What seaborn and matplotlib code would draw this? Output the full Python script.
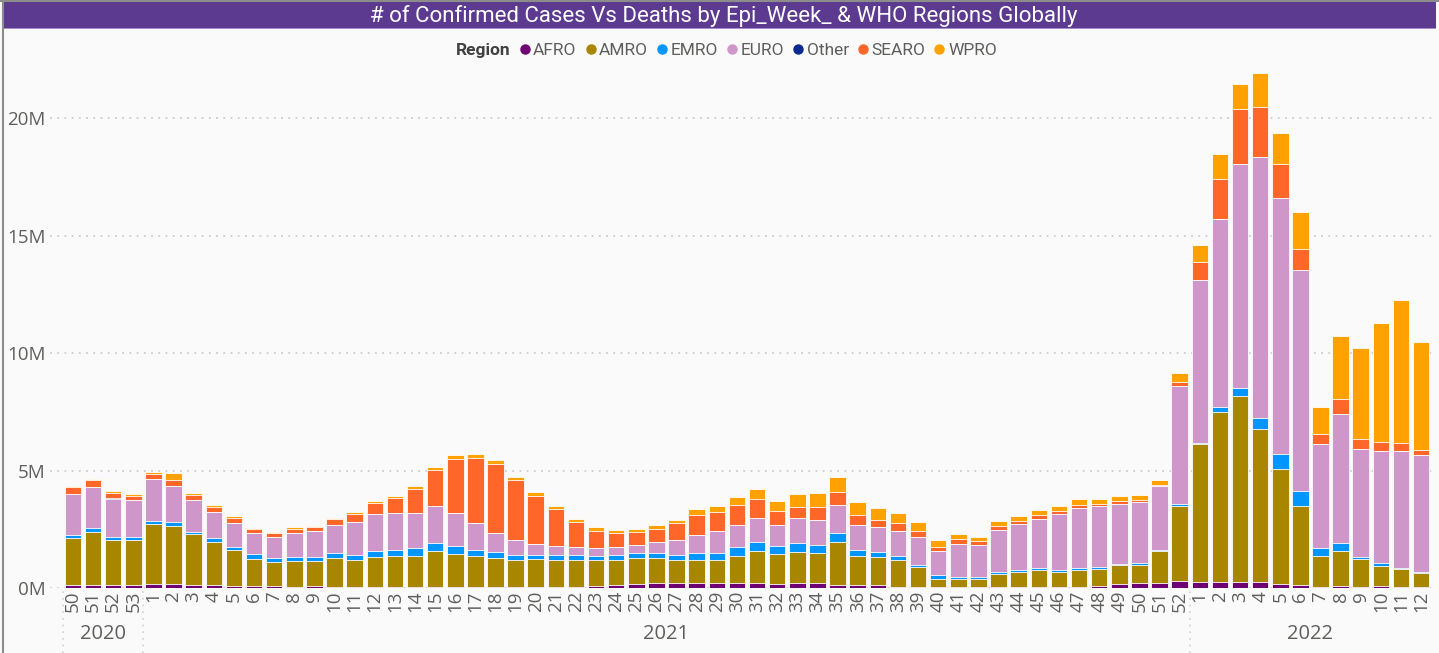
import numpy as np
import pandas as pd
import matplotlib
matplotlib.use("Agg")
import matplotlib.pyplot as plt
import matplotlib.transforms as mtransforms
from matplotlib.lines import Line2D
from matplotlib.patches import Rectangle
import seaborn as sns

# epi weeks: 2020 w50..53, 2021 w1..52, 2022 w1..12
years = [2020] * 4 + [2021] * 52 + [2022] * 12
weeks = [50, 51, 52, 53] + list(range(1, 53)) + list(range(1, 13))

# weekly confirmed cases per region, in millions
afro = [0.12, 0.14, 0.14, 0.13,
        0.20, 0.20, 0.15, 0.15, 0.08, 0.08, 0.08, 0.05, 0.08, 0.05,
        0.05, 0.07, 0.07, 0.07, 0.07, 0.07, 0.05, 0.05, 0.05, 0.05,
        0.07, 0.07, 0.08, 0.12, 0.17, 0.22, 0.22, 0.22, 0.22, 0.22,
        0.22, 0.17, 0.22, 0.22, 0.14, 0.14, 0.14, 0.05, 0.05, 0.05,
        0.05, 0.05, 0.05, 0.05, 0.05, 0.04, 0.06, 0.10, 0.17, 0.22,
        0.22, 0.30,
        0.25, 0.25, 0.25, 0.25, 0.17, 0.15, 0.06, 0.10, 0.06, 0.10,
        0.05, 0.05]
amro = [2.01, 2.26, 1.93, 1.94,
        2.53, 2.46, 2.15, 1.80, 1.56, 1.18, 1.03, 1.11, 1.08, 1.23,
        1.16, 1.25, 1.29, 1.29, 1.52, 1.37, 1.31, 1.23, 1.17, 1.21,
        1.15, 1.15, 1.14, 1.10, 1.11, 1.06, 1.00, 1.00, 1.00, 1.16,
        1.37, 1.27, 1.32, 1.26, 1.81, 1.24, 1.18, 1.17, 0.84, 0.34,
        0.34, 0.34, 0.55, 0.65, 0.71, 0.66, 0.70, 0.72, 0.81, 0.76,
        1.35, 3.18,
        5.89, 7.27, 7.95, 6.53, 4.90, 3.33, 1.31, 1.48, 1.17, 0.86,
        0.75, 0.58]
emro = [0.15, 0.16, 0.11, 0.11,
        0.11, 0.17, 0.10, 0.18, 0.10, 0.18, 0.17, 0.16, 0.16, 0.20,
        0.21, 0.26, 0.28, 0.34, 0.32, 0.36, 0.28, 0.26, 0.20, 0.16,
        0.20, 0.20, 0.16, 0.20, 0.20, 0.20, 0.20, 0.26, 0.26, 0.37,
        0.38, 0.36, 0.37, 0.37, 0.39, 0.26, 0.22, 0.16, 0.11, 0.16,
        0.10, 0.10, 0.10, 0.06, 0.12, 0.06, 0.12, 0.10, 0.05, 0.11,
        0.05, 0.12,
        0.06, 0.21, 0.31, 0.45, 0.64, 0.66, 0.33, 0.33, 0.10, 0.10,
        0.05, 0.06]
euro = [1.72, 1.75, 1.60, 1.56,
        1.80, 1.54, 1.34, 1.13, 1.02, 0.89, 0.90, 1.01, 1.12, 1.22,
        1.40, 1.57, 1.55, 1.49, 1.60, 1.39, 1.12, 0.79, 0.65, 0.48,
        0.38, 0.33, 0.32, 0.33, 0.37, 0.47, 0.65, 0.80, 0.96, 0.95,
        1.00, 0.90, 1.06, 1.07, 1.22, 1.06, 1.06, 1.06, 1.18, 1.02,
        1.39, 1.33, 1.77, 1.97, 2.07, 2.40, 2.55, 2.57, 2.56, 2.56,
        2.72, 5.02,
        6.92, 7.99, 9.55, 11.14, 10.91, 9.41, 4.43, 5.49, 4.60, 4.80,
        5.01, 4.96]
other = [0.0, 0.0, 0.06, 0.0] + [0.0] * 52 + [0.0] * 12
searo = [0.32, 0.29, 0.21, 0.20,
         0.22, 0.23, 0.23, 0.20, 0.23, 0.18, 0.16, 0.21, 0.17, 0.23,
         0.33, 0.47, 0.65, 1.03, 1.50, 2.31, 2.80, 2.97, 2.53, 2.04,
         1.55, 1.07, 0.74, 0.58, 0.55, 0.59, 0.69, 0.85, 0.81, 0.86,
         0.81, 0.60, 0.49, 0.54, 0.55, 0.43, 0.32, 0.32, 0.26, 0.20,
         0.22, 0.18, 0.17, 0.11, 0.17, 0.12, 0.10, 0.10, 0.10, 0.10,
         0.07, 0.16,
         0.75, 1.70, 2.32, 2.11, 1.44, 0.89, 0.44, 0.64, 0.42, 0.38,
         0.31, 0.24]
wpro = [0.05, 0.03, 0.10, 0.06,
        0.10, 0.31, 0.10, 0.10, 0.08, 0.05, 0.05, 0.06, 0.05, 0.06,
        0.11, 0.10, 0.10, 0.15, 0.16, 0.16, 0.16, 0.15, 0.14, 0.15,
        0.16, 0.14, 0.15, 0.16, 0.14, 0.16, 0.16, 0.22, 0.26, 0.32,
        0.43, 0.42, 0.54, 0.59, 0.63, 0.55, 0.49, 0.43, 0.38, 0.27,
        0.20, 0.20, 0.20, 0.22, 0.21, 0.21, 0.28, 0.22, 0.23, 0.22,
        0.20, 0.37,
        0.73, 1.05, 1.07, 1.43, 1.30, 1.59, 1.15, 2.70, 3.86, 5.04,
        6.10, 4.58]

regions = ["AFRO", "AMRO", "EMRO", "EURO", "Other", "SEARO", "WPRO"]
colors = {"AFRO": "#6E0073", "AMRO": "#A98600", "EMRO": "#0095FF",
          "EURO": "#CF97C9", "Other": "#0B2A91", "SEARO": "#FF6629",
          "WPRO": "#FFA100"}
yticks = [0, 5, 10, 15, 20]

df = pd.DataFrame({"year": years, "week": weeks, "AFRO": afro, "AMRO": amro,
                   "EMRO": emro, "EURO": euro, "Other": other,
                   "SEARO": searo, "WPRO": wpro})
df["key"] = df["year"].astype(str) + "-" + df["week"].astype(str)
cum = df[regions].cumsum(axis=1)

bg = "#FAFAFA"
fig = plt.figure(figsize=(14.39, 6.53), dpi=100, facecolor=bg)
ax = fig.add_axes([50 / 1439, (653 - 588.2) / 653, 1386 / 1439, 528.2 / 653])
ax.set_facecolor(bg)

# stacked bars: draw cumulative totals from the top layer down
for r in regions[::-1]:
    sns.barplot(x=df["key"], y=cum[r], color=colors[r], width=0.82,
                edgecolor="white", linewidth=0.6, saturation=1, ax=ax,
                order=list(df["key"]), zorder=3)

n = len(df)
ax.set_xlim(-1.14, 67.74)
ax.set_ylim(0, 22.48)
ax.set_yticks(yticks)
ax.set_yticklabels([f"{v}M" for v in yticks])
ax.set_xticks(range(n))
ax.set_xticklabels([str(w) for w in weeks], rotation=90)
ax.tick_params(axis="both", length=0, colors="#605E5C", labelsize=13.5)
ax.tick_params(axis="y", pad=3)
ax.tick_params(axis="x", pad=2)
for lab in ax.get_xticklabels() + ax.get_yticklabels():
    lab.set_family("Open Sans")
ax.set_xlabel("")
ax.set_ylabel("")
for s in ax.spines.values():
    s.set_visible(False)
ax.yaxis.grid(True, color="#CDCDCD", linestyle=(0, (1, 3)), linewidth=1.3, zorder=0)
ax.set_axisbelow(True)

# year labels and dotted separators under the axis
trans = mtransforms.blended_transform_factory(ax.transData, fig.transFigure)
for yr in [2020, 2021, 2022]:
    idx = np.where(df["year"].to_numpy() == yr)[0]
    ax.text(idx.mean(), 1 - 634 / 653, str(yr), transform=trans, ha="center",
            va="center", fontsize=14.5, color="#605E5C", family="Open Sans")
for xs in [-0.5, 3.5, 55.5]:
    ax.plot([xs, xs], [0, 1 - 590 / 653], transform=trans, clip_on=False,
            color="#D0D0D0", linestyle=(0, (1, 3)), linewidth=1.2)

# title banner
fig.patches.append(Rectangle((3 / 1439, 1 - 28 / 653), 1433 / 1439, 26 / 653,
                             transform=fig.transFigure, facecolor="#5C3A8F",
                             edgecolor="none", zorder=0))
fig.patches.append(Rectangle((3 / 1439, 1 - 29 / 653), 1433 / 1439, 1.2 / 653,
                             transform=fig.transFigure, facecolor="#A58CCB",
                             edgecolor="none", zorder=0))
fig.lines.append(Line2D([2.5 / 1439, 2.5 / 1439], [0, 1], transform=fig.transFigure,
                        color="#8C8C8C", linewidth=1.5))
fig.lines.append(Line2D([0, 1], [1 - 1 / 653, 1 - 1 / 653], transform=fig.transFigure,
                        color="#8C8C8C", linewidth=1.5))
fig.text(0.503, 1 - 16 / 653,
         "# of Confirmed Cases Vs Deaths by Epi_Week_ & WHO Regions Globally",
         ha="center", va="center", color="white", fontsize=16, family="Roboto")

# legend
handles = [Line2D([], [], linestyle="none")]
labels = ["Region"]
for r in regions:
    handles.append(Line2D([], [], linestyle="none", marker="o", markersize=6.5,
                          markerfacecolor=colors[r], markeredgecolor=colors[r]))
    labels.append(r)
leg = fig.legend(handles, labels, loc="center", bbox_to_anchor=(0.5, 1 - 50 / 653),
                 ncol=8, frameon=False, handlelength=0.6, handletextpad=0.2,
                 columnspacing=0.5, prop={"size": 12.5, "family": "Roboto"})
for t in leg.get_texts():
    t.set_color("#605E5C")
leg.get_texts()[0].set_fontweight("bold")
leg.get_texts()[0].set_color("#404040")

fig.savefig("out.png", dpi=100, facecolor=bg)
